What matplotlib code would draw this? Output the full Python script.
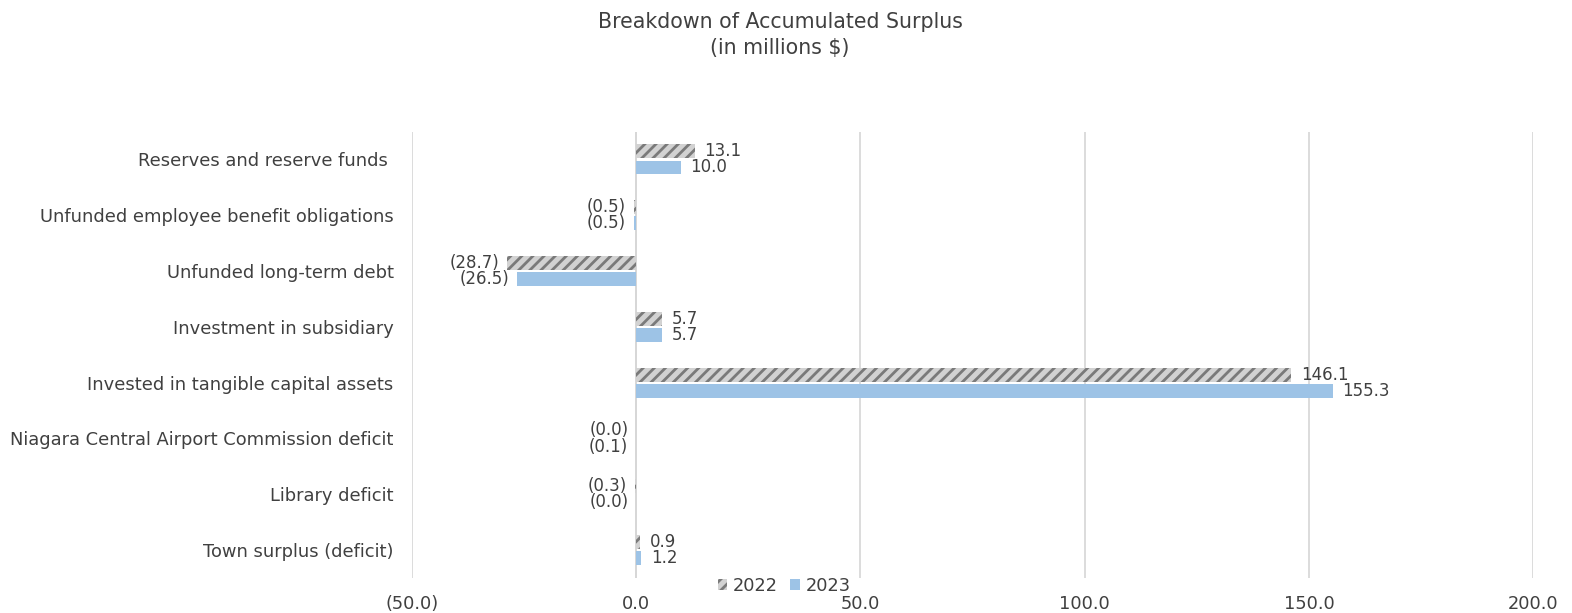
import numpy as np
import matplotlib
matplotlib.use("Agg")
import matplotlib.pyplot as plt
from matplotlib.ticker import FuncFormatter

plt.rcParams['font.family'] = ['DejaVu Sans']
plt.rcParams['hatch.linewidth'] = 2.0

categories = [
    "Reserves and reserve funds ",
    "Unfunded employee benefit obligations",
    "Unfunded long-term debt",
    "Investment in subsidiary",
    "Invested in tangible capital assets",
    "Niagara Central Airport Commission deficit",
    "Library deficit",
    "Town surplus (deficit)",
]
values_2022 = [13.1, -0.5, -28.7, 5.7, 146.1, -0.0, -0.3, 0.9]
values_2023 = [10.0, -0.5, -26.5, 5.7, 155.3, -0.1, -0.0, 1.2]
series_labels = ["2022", "2023"]
x_ticks = [-50, 0, 50, 100, 150, 200]

TEXT = "#404040"
BLUE = "#9dc3e6"
HATCH_FACE = "#d2d2d2"
HATCH_EDGE = "#7a7a7a"


def fmt(v):
    return f"({abs(v):.1f})" if np.signbit(v) else f"{v:.1f}"


W, H = 1572, 613
fig = plt.figure(figsize=(W / 100, H / 100), dpi=100)
left, right, top, bottom = 411.7, 1533.3, 131.5, 578
ax = fig.add_axes([left / W, 1 - bottom / H, (right - left) / W, (bottom - top) / H])

y = np.arange(len(categories))
h = 0.25
off = 0.145

b22 = ax.barh(y - off, values_2022, height=h, color=HATCH_FACE, edgecolor=HATCH_EDGE,
              hatch='///', linewidth=0, label=series_labels[0], zorder=3)
b23 = ax.barh(y + off, values_2023, height=h, color=BLUE, linewidth=0,
              label=series_labels[1], zorder=3)

for bars, vals in ((b22, values_2022), (b23, values_2023)):
    for rect, v in zip(bars, vals):
        yc = rect.get_y() + rect.get_height() / 2
        if np.signbit(v):
            ax.annotate(fmt(v), (v, yc), xytext=(-5.5, 0), textcoords="offset points",
                        ha="right", va="center", fontsize=12, color=TEXT)
        else:
            ax.annotate(fmt(v), (v, yc), xytext=(7, 0), textcoords="offset points",
                        ha="left", va="center", fontsize=12, color=TEXT)

ax.set_xlim(-50, 200)
ax.set_ylim(len(categories) - 0.5, -0.5)
ax.set_xticks(x_ticks)
ax.xaxis.set_major_formatter(FuncFormatter(lambda v, p: fmt(float(v))))
ax.set_yticks(y)
ax.set_yticklabels(categories)
ax.tick_params(axis="y", length=0, pad=13, labelsize=12.9, labelcolor=TEXT)
ax.tick_params(axis="x", length=0, pad=12, labelsize=12.8, labelcolor=TEXT)
ax.grid(axis="x", color="#d9d9d9", linewidth=1.3, zorder=0)
ax.axvline(0, color="#c4c4c4", linewidth=1.3, zorder=1)
for s in ax.spines.values():
    s.set_visible(False)

fig.text(780 / W, 1 - 22.5 / H, "Breakdown of Accumulated Surplus", ha="center", va="center",
         fontsize=14.8, color=TEXT)
fig.text(780 / W, 1 - 48 / H, "(in millions $)", ha="center", va="center",
         fontsize=14.8, color=TEXT)

fig.legend(handles=[b22, b23], labels=series_labels, loc="center",
           bbox_to_anchor=(784 / W, 1 - 586 / H), ncol=2, frameon=False,
           fontsize=12.8, handlelength=0.55, handleheight=0.55, handletextpad=0.3,
           columnspacing=0.7, labelcolor=TEXT, borderpad=0)

fig.savefig("out.png", dpi=100, facecolor="white")
